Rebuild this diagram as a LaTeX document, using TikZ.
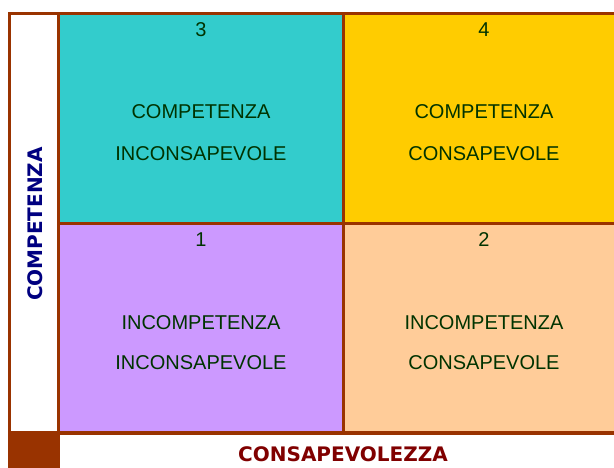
\documentclass[tikz,border=0pt]{standalone}
\usepackage{fontspec}
\setmainfont{Liberation Sans}
\newfontfamily\boldlabel{DejaVu Sans}
\definecolor{frame}{RGB}{153,51,0}
\definecolor{cyanc}{RGB}{51,204,204}
\definecolor{yellowc}{RGB}{255,204,0}
\definecolor{lavc}{RGB}{204,153,255}
\definecolor{peachc}{RGB}{255,204,153}
\definecolor{txt}{RGB}{0,51,0}
\definecolor{navyc}{RGB}{0,0,128}
\definecolor{maroonc}{RGB}{128,0,0}
\tikzset{
  cell/.style={draw=none, inner sep=0pt, outer sep=0pt},
  celltext/.style={text=txt, font=\fontsize{20}{24}\selectfont, inner sep=0pt, anchor=center},
  axislabel/.style={font=\boldlabel\bfseries\fontsize{20}{24}\selectfont, inner sep=0pt}
}
\begin{document}
\begin{tikzpicture}[x=1pt,y=-1pt]
\useasboundingbox (0,0) rectangle (614,468);
\fill[white] (0,0) rectangle (614,468);
% frame
\fill[frame] (8,12) rectangle (614,435);
\fill[frame] (8,431) rectangle (60,468);
\fill[white] (11,15) rectangle (57,431);
% cells
\node[cell, fill=cyanc, minimum width=282pt, minimum height=207pt] (c3) at (201,118.5) {};
\node[cell, fill=yellowc, minimum width=269pt, minimum height=207pt] (c4) at (479.5,118.5) {};
\node[cell, fill=lavc, minimum width=282pt, minimum height=206pt] (c1) at (201,328) {};
\node[cell, fill=peachc, minimum width=269pt, minimum height=206pt] (c2) at (479.5,328) {};
% numbers
\node[celltext] (n3) at (201,30) {3};
\node[celltext] (n4) at (484,30) {4};
\node[celltext] (n1) at (201,240) {1};
\node[celltext] (n2) at (484,240) {2};
% texts
\node[celltext] (t3a) at (201,112) {COMPETENZA};
\node[celltext] (t3b) at (201,154) {INCONSAPEVOLE};
\node[celltext] (t4a) at (484,112) {COMPETENZA};
\node[celltext] (t4b) at (484,154) {CONSAPEVOLE};
\node[celltext] (t1a) at (201,323) {INCOMPETENZA};
\node[celltext] (t1b) at (201,363) {INCONSAPEVOLE};
\node[celltext] (t2a) at (484,323) {INCOMPETENZA};
\node[celltext] (t2b) at (484,363) {CONSAPEVOLE};
% axis labels
\node[axislabel, text=navyc, rotate=90] (ylab) at (35,224) {COMPETENZA};
\node[axislabel, text=maroonc] (xlab) at (343,454) {CONSAPEVOLEZZA};
\end{tikzpicture}
\end{document}
